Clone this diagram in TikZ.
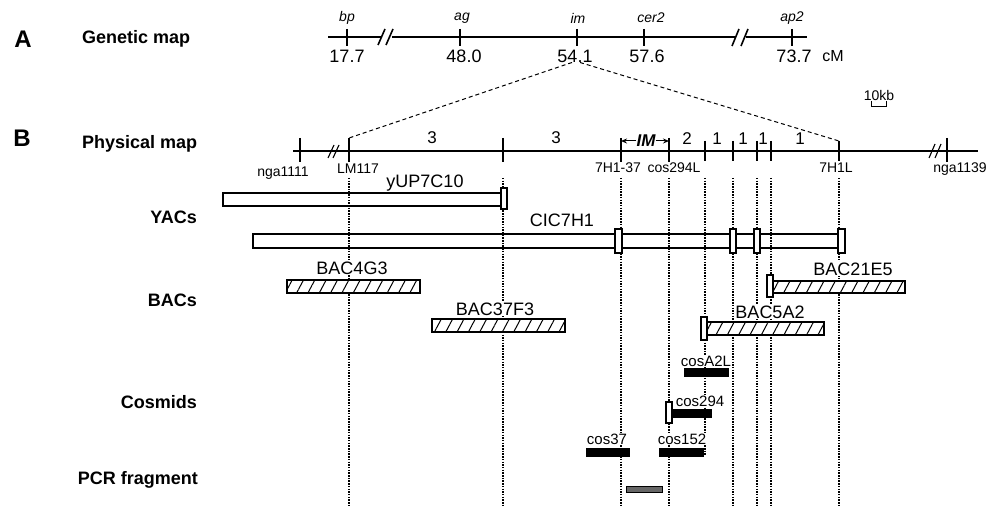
\documentclass[tikz,border=0pt]{standalone}
\usepackage{fontspec}
\setmainfont{Liberation Sans}
\usetikzlibrary{patterns.meta,arrows.meta}

\tikzset{
  panel/.style={font=\fontsize{24}{26}\selectfont\bfseries, inner sep=0pt},
  rowlab/.style={font=\fontsize{18}{20}\selectfont\bfseries, inner sep=0pt},
  gene/.style={font=\fontsize{14}{16}\selectfont\itshape, inner sep=0pt},
  cmval/.style={font=\fontsize{18}{20}\selectfont, inner sep=0pt},
  marker/.style={font=\fontsize{14}{16}\selectfont, inner sep=0pt},
  seglab/.style={font=\fontsize{17}{19}\selectfont, inner sep=0pt},
  clonelab/.style={font=\fontsize{18}{20}\selectfont, inner sep=1pt, fill=white},
  coslab/.style={font=\fontsize{15}{17}\selectfont, inner sep=1pt, fill=white},
  gline/.style={line width=1.6pt},
  pline/.style={line width=1.1pt},
  guide/.style={line width=1.7pt, dash pattern=on 1.5pt off 1.2pt},
  zoomline/.style={line width=1pt, dash pattern=on 4pt off 3pt},
  clone/.style={anchor=north west, inner sep=0pt, outer sep=0pt},
  yac/.style={clone, draw, line width=1.9pt},
  endbox/.style={clone, draw, fill=white, line width=1.9pt},
  bac/.style={clone, draw, line width=1.9pt, preaction={fill=white},
    pattern={Lines[angle=62,distance=10pt,line width=1pt]}},
  cosmid/.style={clone, fill=black},
  pcr/.style={clone, draw, line width=0.8pt, fill=black!60},
}

\begin{document}
\begin{tikzpicture}[x=1pt, y=-1pt]
  \useasboundingbox (0,0) rectangle (993,510);

  % Row labels
  \node[panel] (A) at (23,39) {A};
  \node[rowlab, anchor=west] (genmap) at (82,39) {Genetic map};
  \node[panel] (B) at (22,138) {B};
  \node[rowlab, anchor=west] (physmap) at (82,144) {Physical map};
  \node[rowlab, anchor=east] (yacs) at (197,217) {YACs};
  \node[rowlab, anchor=east] (bacs) at (197,300) {BACs};
  \node[rowlab, anchor=east] (cosmids) at (197,402) {Cosmids};
  \node[rowlab, anchor=east] (pcrlab) at (198,480) {PCR fragment};

  % Genetic map
  \coordinate (gs) at (328,37);
  \coordinate (gb1) at (381,37);
  \coordinate (gb2) at (392,37);
  \coordinate (gb3) at (735,37);
  \coordinate (gb4) at (746,37);
  \coordinate (ge) at (807,37);
  \draw[gline, line width=2.3pt] (gs) -- (gb1);
  \draw[gline] (gb2) -- (gb3);
  \draw[gline] (gb4) -- (ge);
  \draw[gline] (378,45) -- (385,29) (386,45) -- (393,29);
  \draw[gline] (732,46) -- (739,29) (741,46) -- (748,29);
  \foreach \n/\x in {bp/347, ag/460, im/577, cer/644, ap/792}
    \draw[gline, line width=1.9pt] (\x,29) coordinate (t\n) -- (\x,46);
  \node[gene] (bp) at (347,18) {bp};
  \node[gene] (ag) at (462,18) {ag};
  \node[gene] (im) at (578,18) {im};
  \node[gene] (cer2) at (651,18) {cer2};
  \node[gene] (ap2) at (792,18) {ap2};
  \node[cmval] (v177) at (347,56) {17.7};
  \node[cmval] (v480) at (464,56) {48.0};
  \node[cmval] (v541) at (575,56) {54.1};
  \node[cmval] (v576) at (647,56) {57.6};
  \node[cmval] (v737) at (794,56) {73.7};
  \node[cmval, font=\fontsize{16}{18}\selectfont] (cM) at (833,56) {cM};

  % Scale bar
  \node[marker] (scale) at (879,95) {10kb};
  \draw[line width=1pt] (871,101) -- (871,107) -- (886,107) -- (886,101);

  % Physical map
  \coordinate (ps) at (293,151);
  \coordinate (pe) at (978,151);
  \draw[pline] (ps) -- (pe);
  \draw[pline] (328,158) -- (334,145) (333,158) -- (339,145);
  \draw[pline] (929,158) -- (935,144) (935,158) -- (941,144);
  \foreach \n/\x in {nga/300, LM/349, c503/503, s37/621, cosL/669, nga2/947}
    \draw[pline] (\x,138) coordinate (top\n) -- (\x,162) coordinate (p\n);
  \foreach \n/\x in {c705/705, c733/733, c757/757, c771/771, HL/839}
    \draw[pline] (\x,141) coordinate (top\n) -- (\x,161) coordinate (p\n);
  \node[marker] (nga1111) at (283,173) {nga1111};
  \node[marker] (LM117) at (358,169) {LM117};
  \node[marker] (H137) at (618,168) {7H1-37};
  \node[marker] (cos294L) at (674,168) {cos294L};
  \node[marker] (H1L) at (836,168) {7H1L};
  \node[marker] (nga1139) at (960,169) {nga1139};
  \node[seglab] (s1) at (432,138) {3};
  \node[seglab] (s2) at (556,138) {3};
  \node[seglab] (s3) at (687,139) {2};
  \node[seglab] (s4) at (717,139) {1};
  \node[seglab] (s5) at (743,139) {1};
  \node[seglab] (s6) at (763,139) {1};
  \node[seglab] (s7) at (800,139) {1};
  \node[seglab, font=\fontsize{17}{19}\selectfont\bfseries\itshape] (IM) at (646,141) {IM};
  \draw[line width=1pt, -{Stealth[length=6pt,width=5pt]}] (IM.west) -- (tops37 |- IM);
  \draw[line width=1pt, -{Stealth[length=6pt,width=5pt]}] (IM.east) -- (topcosL |- IM);

  % Zoom lines
  \draw[zoomline] ([xshift=-3pt]v541.south) -- (topLM);
  \draw[zoomline] ([xshift=5pt]v541.south) -- (topHL);

  % Guides
  \foreach \n in {LM, c503, s37, cosL, c733, c757, c771, HL}
    \draw[guide] (p\n |- 0,178) -- (p\n |- 0,507);
  \draw[guide] (pc705 |- 0,178) -- (pc705 |- 0,456);

  % YACs
  \node[yac, minimum width=280pt, minimum height=13pt] (yUP7C10) at (223,193) {};
  \node[endbox, minimum width=6pt, minimum height=21pt] (yUPend) at (501,188) {};
  \node[clonelab] (yUPlab) at (425,183) {yUP7C10};
  \node[yac, minimum width=586pt, minimum height=14pt] (CIC7H1) at (253,234) {};
  \node[endbox, minimum width=7pt, minimum height=24pt] (CICa) at (615,229) {};
  \node[endbox, minimum width=6pt, minimum height=24pt] (CICb) at (730,229) {};
  \node[endbox, minimum width=6pt, minimum height=24pt] (CICc) at (754,229) {};
  \node[endbox, minimum width=7pt, minimum height=24pt] (CICd) at (838,229) {};
  \node[clonelab] (CIClab) at (562,220) {CIC7H1};

  % BACs
  \node[clonelab] (BAC4G3lab) at (352,268) {BAC4G3};
  \node[bac, minimum width=133pt, minimum height=13pt] (BAC4G3) at (287,280) {};
  \node[clonelab] (BAC37F3lab) at (495,309) {BAC37F3};
  \node[bac, minimum width=133pt, minimum height=13pt] (BAC37F3) at (432,319) {};
  \node[clonelab] (BAC21E5lab) at (853,269) {BAC21E5};
  \node[bac, minimum width=132pt, minimum height=12pt] (BAC21E5) at (773,281) {};
  \node[endbox, minimum width=6pt, minimum height=22pt] (BAC21E5end) at (767,275) {};
  \node[clonelab] (BAC5A2lab) at (770,312) {BAC5A2};
  \node[bac, minimum width=118pt, minimum height=13pt] (BAC5A2) at (706,322) {};
  \node[endbox, minimum width=6pt, minimum height=23pt] (BAC5A2end) at (701,317) {};

  % Cosmids
  \node[cosmid, minimum width=45pt, minimum height=9pt] (cosA2L) at (684,368) {};
  \node[cosmid, minimum width=39pt, minimum height=9pt] (cos294) at (673,409) {};
  \node[cosmid, minimum width=44pt, minimum height=9pt] (cos37) at (586,448) {};
  \node[cosmid, minimum width=45pt, minimum height=9pt] (cos152) at (659,448) {};
  \node[endbox, minimum width=6pt, minimum height=21pt] (cos294end) at (666,402) {};
  \node[coslab] (cosA2Llab) at (706,361) {cosA2L};
  \node[coslab] (cos294lab) at (700,401) {cos294};
  \node[coslab] (cos37lab) at (607,439) {cos37};
  \node[coslab] (cos152lab) at (682,439) {cos152};

  % PCR fragment
  \node[pcr, minimum width=36pt, minimum height=6pt] (pcr) at (626,486) {};
\end{tikzpicture}
\end{document}
